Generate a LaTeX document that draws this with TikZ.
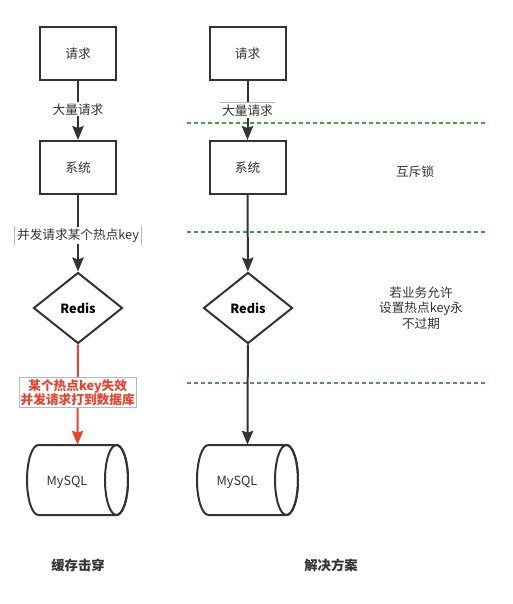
\documentclass[tikz,border=0pt]{standalone}
\usepackage{fontspec}
\setmainfont{Noto Sans CJK SC}
\usetikzlibrary{shapes.geometric,arrows.meta}
\definecolor{ink}{HTML}{333333}
\definecolor{redc}{HTML}{E8432F}
\definecolor{greenc}{HTML}{4C9A4C}
\definecolor{lblgray}{HTML}{B8B8B8}
\tikzset{
  box/.style={draw=ink,line width=1.5pt,fill=white,minimum width=57pt,minimum height=39.75pt,inner sep=0pt,font=\fontsize{9.5}{11}\selectfont,text=ink},
  dia/.style={diamond,draw=ink,line width=1.5pt,fill=white,minimum width=66.75pt,minimum height=53.25pt,inner sep=0pt,font=\bfseries\fontsize{9.5}{11}\selectfont,text=black},
  cylframe/.style={minimum width=75.75pt,minimum height=52.5pt,inner sep=0pt},
  cylline/.style={draw=ink,line width=1.5pt},
  conn/.style={draw=ink,line width=1.5pt,-{Stealth[length=10.5pt,width=8.5pt,inset=1.5pt]}},
  redconn/.style={draw=redc,line width=1.5pt,-{Stealth[length=10.5pt,width=8.5pt,inset=1.5pt]}},
  lbl/.style={fill=white,inner sep=1pt,font=\fontsize{9.5}{11}\selectfont,text=ink},
  sep/.style={draw=greenc,line width=1pt,dash pattern=on 3pt off 2.25pt},
  note/.style={font=\fontsize{9.5}{11.5}\selectfont,text=ink,align=center},
  caption/.style={font=\bfseries\fontsize{10}{12}\selectfont,text=ink},
}
\begin{document}
\begin{tikzpicture}[x=0.75pt,y=-0.75pt]
\useasboundingbox (0,0) rectangle (513,604);
% separators
\coordinate (s1a) at (187,123); \coordinate (s1b) at (488,123);
\coordinate (s2a) at (187,232); \coordinate (s2b) at (488,232);
\coordinate (s3a) at (187,383); \coordinate (s3b) at (488,383);
\draw[sep] (s1a) -- (s1b);
\draw[sep] (s2a) -- (s2b);
\draw[sep] (s3a) -- (s3b);

% left column
\node[box] (lreq) at (78,53.5) {请求};
\node[box] (lsys) at (78,167.5) {系统};
\node[dia] (lredis) at (78,308) {Redis};
\node[cylframe] (ldb) at (77.5,480) {};
\draw[cylline,fill=white] (38.5,445) arc[start angle=90,end angle=270,x radius=8.625pt,y radius=26.25pt] -- (116.5,515) arc[start angle=-90,end angle=90,x radius=8.625pt,y radius=26.25pt] -- cycle;
\draw[cylline] (116.5,480) ellipse[x radius=8.625pt,y radius=26.25pt];
\node[font=\fontsize{9.5}{11}\selectfont,text=ink] (ldbt) at (67,482) {MySQL};

\draw[conn] (lreq) -- (lsys) node[lbl,pos=0.48] (ll1) {大量请求};
\draw[conn] (lsys) -- (lredis) node[lbl,pos=0.53] (ll2) {并发请求某个热点key};
\draw[lblgray,line width=0.5pt] (ll2.north west) -- (ll2.south west) (ll2.north east) -- (ll2.south east);
\draw[redconn] (lredis) -- (ldb.north) node[pos=0.48,fill=white,draw=lblgray,line width=0.6pt,inner sep=1pt,align=center,text=redc,font=\bfseries\fontsize{9.5}{11}\selectfont] (ll3) {某个热点key失效\\并发请求打到数据库};

% right column
\node[box] (rreq) at (247.5,53.5) {请求};
\node[box] (rsys) at (247.5,167.5) {系统};
\node[dia] (rredis) at (248,308) {Redis};
\node[cylframe] (rdb) at (247.5,480) {};
\draw[cylline,fill=white] (208.5,445) arc[start angle=90,end angle=270,x radius=8.625pt,y radius=26.25pt] -- (286.5,515) arc[start angle=-90,end angle=90,x radius=8.625pt,y radius=26.25pt] -- cycle;
\draw[cylline] (286.5,480) ellipse[x radius=8.625pt,y radius=26.25pt];
\node[font=\fontsize{9.5}{11}\selectfont,text=ink] (rdbt) at (237,482) {MySQL};

\draw[conn] (rreq) -- (rsys) node[lbl,pos=0.5] (rl1) {大量请求};
\draw[lblgray,line width=0.5pt] (rl1.north west) -- (rl1.north east);
\draw[conn] (rsys) -- (rredis);
\draw[conn] (rredis) -- (rdb.north);

% notes
\node[note] (n1) at (415,172) {互斥锁};
\node[note] (n2) at (421,308) {若业务允许\\设置热点key永\\不过期};
\node[caption] (c1) at (78,565) {缓存击穿};
\node[caption] (c2) at (331,565) {解决方案};
\end{tikzpicture}
\end{document}
